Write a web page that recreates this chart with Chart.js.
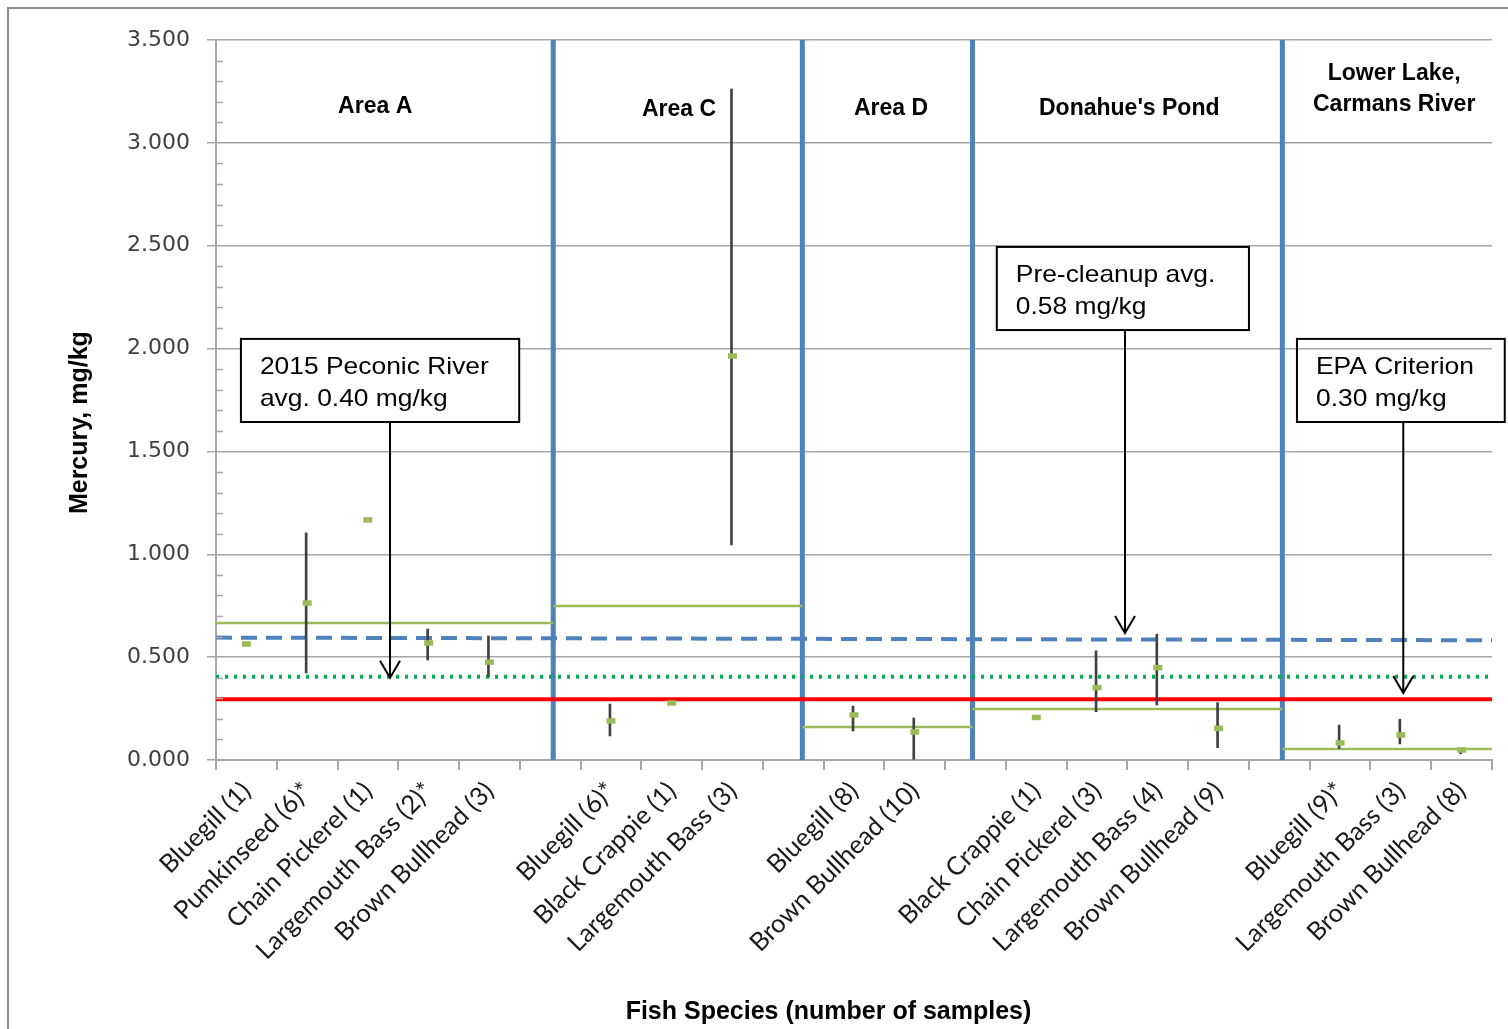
<!DOCTYPE html>
<html>
<head>
<meta charset="utf-8">
<script src="https://cdn.jsdelivr.net/npm/chart.js@4.4.1/dist/chart.umd.min.js"></script>
<style>
  html, body { margin: 0; padding: 0; background: #fff; }
  #wrap { width: 1508px; height: 1029px; }
</style>
</head>
<body>
<div id="wrap"><canvas id="hgChart" width="1508" height="1029"></canvas></div>
<script>
// categorias del eje x (los '' son los huecos entre zonas)
const species = ['Bluegill (1)', 'Pumkinseed (6)*', 'Chain Pickerel (1)', 'Largemouth Bass (2)*', 'Brown Bullhead (3)', '',
  'Bluegill (6)*', 'Black Crappie (1)', 'Largemouth Bass (3)', '',
  'Bluegill (8)', 'Brown Bullhead (10)', '',
  'Black Crappie (1)', 'Chain Pickerel (3)', 'Largemouth Bass (4)', 'Brown Bullhead (9)', '',
  'Bluegill (9)*', 'Largemouth Bass (3)', 'Brown Bullhead (8)'];

// promedio, minimo y maximo de mercurio (mg/kg)
const meanHg = [0.564, 0.763, 1.167, 0.569, 0.476, null, 0.19, 0.277, 1.964, null, 0.219, 0.136, null, 0.207, 0.352, 0.449, 0.154, null, 0.083, 0.122, 0.049];
const minHg = [null, 0.423, null, 0.486, 0.404, null, 0.117, null, 1.045, null, 0.141, 0.0, null, null, 0.235, 0.267, 0.06, null, 0.057, 0.078, 0.03];
const maxHg = [null, 1.104, null, 0.637, 0.603, null, 0.272, null, 3.262, null, 0.262, 0.204, null, null, 0.531, 0.611, 0.279, null, 0.17, 0.198, 0.055];

// zonas: nombre, inicio/fin (en unidades de categoria) y promedio de la zona
const areaNames = ['Area A', 'Area C', 'Area D', "Donahue's Pond", ['Lower Lake,', 'Carmans River']];
const areaStart = [0, 5.55, 9.65, 12.45, 17.55];
const areaEnd = [5.55, 9.65, 12.45, 17.55, 21];
const areaAvg = [0.666, 0.749, 0.16, 0.248, 0.053];

// lineas de referencia
const preCleanup = [0.595, 0.582];   // inicio y fin de la linea azul discontinua
const peconicAvg = 0.405;
const epaCriterion = 0.295;

// ticks del eje y
const yMax = 3.5;
const yStep = 0.1;

// titulos de los ejes
const xTitle = 'Fish Species (number of samples)';
const yTitle = 'Mercury, mg/kg';

// textos de las zonas y cuadros de anotacion (coordenadas en unidades de los ejes)
const headers = [
  { x: 2.62, y: 3.175 }, { x: 7.62, y: 3.16 }, { x: 11.11, y: 3.165 }, { x: 15.03, y: 3.165 }, { x: 19.39, y: 3.26 }
];
const notes = [
  { lines: ['2015 Peconic River', 'avg. 0.40 mg/kg'], x0: 0.41, x1: 4.99, yTop: 2.047, yBot: 1.643, arrowX: 2.864, tipY: 0.40, fill: true },
  { lines: ['Pre-cleanup avg.', '0.58 mg/kg'], x0: 12.85, x1: 17.0, yTop: 2.494, yBot: 2.09, arrowX: 14.96, tipY: 0.617, fill: true },
  { lines: ['EPA Criterion', '0.30 mg/kg'], x0: 17.79, x1: 21.21, yTop: 2.047, yBot: 1.643, arrowX: 19.54, tipY: 0.326, fill: false }
];

const isMajor = v => Math.abs(v * 2 - Math.round(v * 2)) < 1e-6;

// armamos los datasets
const datasets = [];

datasets.push({
  type: 'line', label: 'mean', data: meanHg, xAxisID: 'x', showLine: false,
  pointStyle: 'line', pointRadius: 4.5, pointBorderWidth: 5.5, pointBorderColor: '#9bbb59', order: 0
});

datasets.push({
  type: 'bar', label: 'range', xAxisID: 'x',
  data: species.map((_, i) => minHg[i] == null ? null : [minHg[i], maxHg[i]]),
  backgroundColor: '#404040', barThickness: 2, order: 1
});

datasets.push({
  type: 'line', label: 'EPA', xAxisID: 'x2', data: [{ x: 0, y: epaCriterion }, { x: 21, y: epaCriterion }],
  borderColor: '#ff0000', borderWidth: 4, pointRadius: 0, order: 2
});

datasets.push({
  type: 'line', label: 'pre', xAxisID: 'x2', data: [{ x: 0, y: preCleanup[0] }, { x: 21, y: preCleanup[1] }],
  borderColor: '#4f81bd', borderWidth: 4, borderDash: [16, 9], pointRadius: 0, order: 3
});

datasets.push({
  type: 'line', label: 'peconic', xAxisID: 'x2', data: [{ x: 0, y: peconicAvg }, { x: 21, y: peconicAvg }],
  borderColor: '#00b050', borderWidth: 4, borderDash: [3, 6], pointRadius: 0, order: 4
});

areaNames.forEach((name, i) => {
  datasets.push({
    type: 'line', label: 'avg ' + i, xAxisID: 'x2',
    data: [{ x: areaStart[i], y: areaAvg[i] }, { x: areaEnd[i], y: areaAvg[i] }],
    borderColor: '#9bbb59', borderWidth: 2.5, pointRadius: 0, order: 5
  });
  if (i > 0) {
    datasets.push({
      type: 'line', label: 'sep ' + i, xAxisID: 'x2',
      data: [{ x: areaStart[i], y: 0 }, { x: areaStart[i], y: yMax }],
      borderColor: '#4f81bd', borderWidth: 5, pointRadius: 0, order: 6
    });
  }
});

const notesPlugin = {
  id: 'notes',
  beforeDraw(chart) {
    const ctx = chart.ctx;
    ctx.save();
    ctx.fillStyle = '#fff';
    ctx.fillRect(0, 0, chart.width, chart.height);
    ctx.strokeStyle = '#8c8c8c';
    ctx.lineWidth = 2;
    ctx.beginPath();
    ctx.moveTo(8, chart.height);
    ctx.lineTo(8, 8);
    ctx.lineTo(chart.width, 8);
    ctx.stroke();
    ctx.restore();
  },
  afterDraw(chart) {
    const ctx = chart.ctx;
    const xs = chart.scales.x2, ys = chart.scales.y;
    const area = chart.chartArea;
    ctx.save();
    // ticks menores del eje y, hacia adentro
    ctx.strokeStyle = '#a6a6a6';
    ctx.lineWidth = 1.5;
    ys.ticks.forEach(t => {
      if (isMajor(t.value)) return;
      const py = Math.round(ys.getPixelForValue(t.value)) + 0.5;
      ctx.beginPath();
      ctx.moveTo(area.left, py);
      ctx.lineTo(area.left + 7, py);
      ctx.stroke();
    });
    // titulos de los ejes
    ctx.fillStyle = '#000';
    ctx.textAlign = 'center';
    ctx.textBaseline = 'middle';
    ctx.font = 'bold 25px "Liberation Sans", Arial, sans-serif';
    ctx.fillText(xTitle, area.left + (area.right - area.left) * 0.48, 1012);
    ctx.save();
    ctx.translate(80, ys.getPixelForValue(1.64));
    ctx.rotate(-Math.PI / 2);
    ctx.font = 'bold 25px "Liberation Sans", Arial, sans-serif';
    ctx.fillText(yTitle, 0, 0);
    ctx.restore();
    // nombres de las zonas
    ctx.font = 'bold 23px "Liberation Sans", Arial, sans-serif';
    areaNames.forEach((name, i) => {
      const lines = Array.isArray(name) ? name : [name];
      const cx = xs.getPixelForValue(headers[i].x);
      const cy = ys.getPixelForValue(headers[i].y);
      lines.forEach((ln, j) => ctx.fillText(ln, cx, cy + (j - (lines.length - 1) / 2) * 31));
    });
    // cuadros con flecha
    ctx.textAlign = 'left';
    notes.forEach(n => {
      const x0 = xs.getPixelForValue(n.x0), x1 = xs.getPixelForValue(n.x1);
      const y0 = ys.getPixelForValue(n.yTop), y1 = ys.getPixelForValue(n.yBot);
      const ax = xs.getPixelForValue(n.arrowX), ay = ys.getPixelForValue(n.tipY);
      if (n.fill) {
        ctx.fillStyle = '#fff';
        ctx.fillRect(x0, y0, x1 - x0, y1 - y0);
      }
      ctx.strokeStyle = '#000';
      ctx.lineWidth = 2;
      ctx.strokeRect(x0, y0, x1 - x0, y1 - y0);
      ctx.beginPath();
      ctx.moveTo(ax, y1);
      ctx.lineTo(ax, ay);
      ctx.moveTo(ax - 10, ay - 17);
      ctx.lineTo(ax, ay);
      ctx.lineTo(ax + 10, ay - 17);
      ctx.stroke();
      ctx.fillStyle = '#000';
      ctx.font = '24px "Liberation Sans", Arial, sans-serif';
      n.lines.forEach((ln, j) => {
        ctx.save();
        ctx.translate(x0 + 19, y0 + 28 + j * 32);
        ctx.scale(1.1, 1);
        ctx.fillText(ln, 0, 0);
        ctx.restore();
      });
    });
    ctx.restore();
  }
};

new Chart(document.getElementById('hgChart').getContext('2d'), {
  type: 'line',
  data: { labels: species, datasets: datasets },
  options: {
    responsive: false,
    devicePixelRatio: 1,
    animation: false,
    events: [],
    layout: { padding: { left: 0, right: 16, top: 40, bottom: 0 } },
    plugins: { legend: { display: false }, tooltip: { enabled: false } },
    scales: {
      x: {
        type: 'category',
        offset: true,
        grid: { offset: true, drawOnChartArea: false, color: '#a6a6a6', lineWidth: 2, tickLength: 10 },
        border: { color: '#a6a6a6', width: 2 },
        ticks: {
          autoSkip: false, maxRotation: 45, minRotation: 45, padding: 6,
          color: '#1a1a1a', font: { family: 'Lato, "Liberation Sans", sans-serif', size: 25.5 }
        },
        afterFit(scale) { scale.height = 269; }
      },
      x2: { type: 'linear', display: false, min: 0, max: 21 },
      y: {
        min: 0, max: yMax,
        grid: {
          color: c => isMajor(c.tick.value) ? '#a6a6a6' : 'rgba(0,0,0,0)',
          tickColor: c => isMajor(c.tick.value) ? '#a6a6a6' : 'rgba(0,0,0,0)',
          lineWidth: 1.5, tickLength: 9
        },
        border: { color: '#a6a6a6', width: 2 },
        ticks: {
          stepSize: yStep, autoSkip: false, padding: 17, color: '#404040',
          font: { family: '"DejaVu Sans", sans-serif', size: 22 },
          callback: v => isMajor(v) ? v.toFixed(3) : ''
        },
        afterFit(scale) { scale.width = 216; }
      }
    }
  },
  plugins: [notesPlugin]
});
</script>
</body>
</html>
